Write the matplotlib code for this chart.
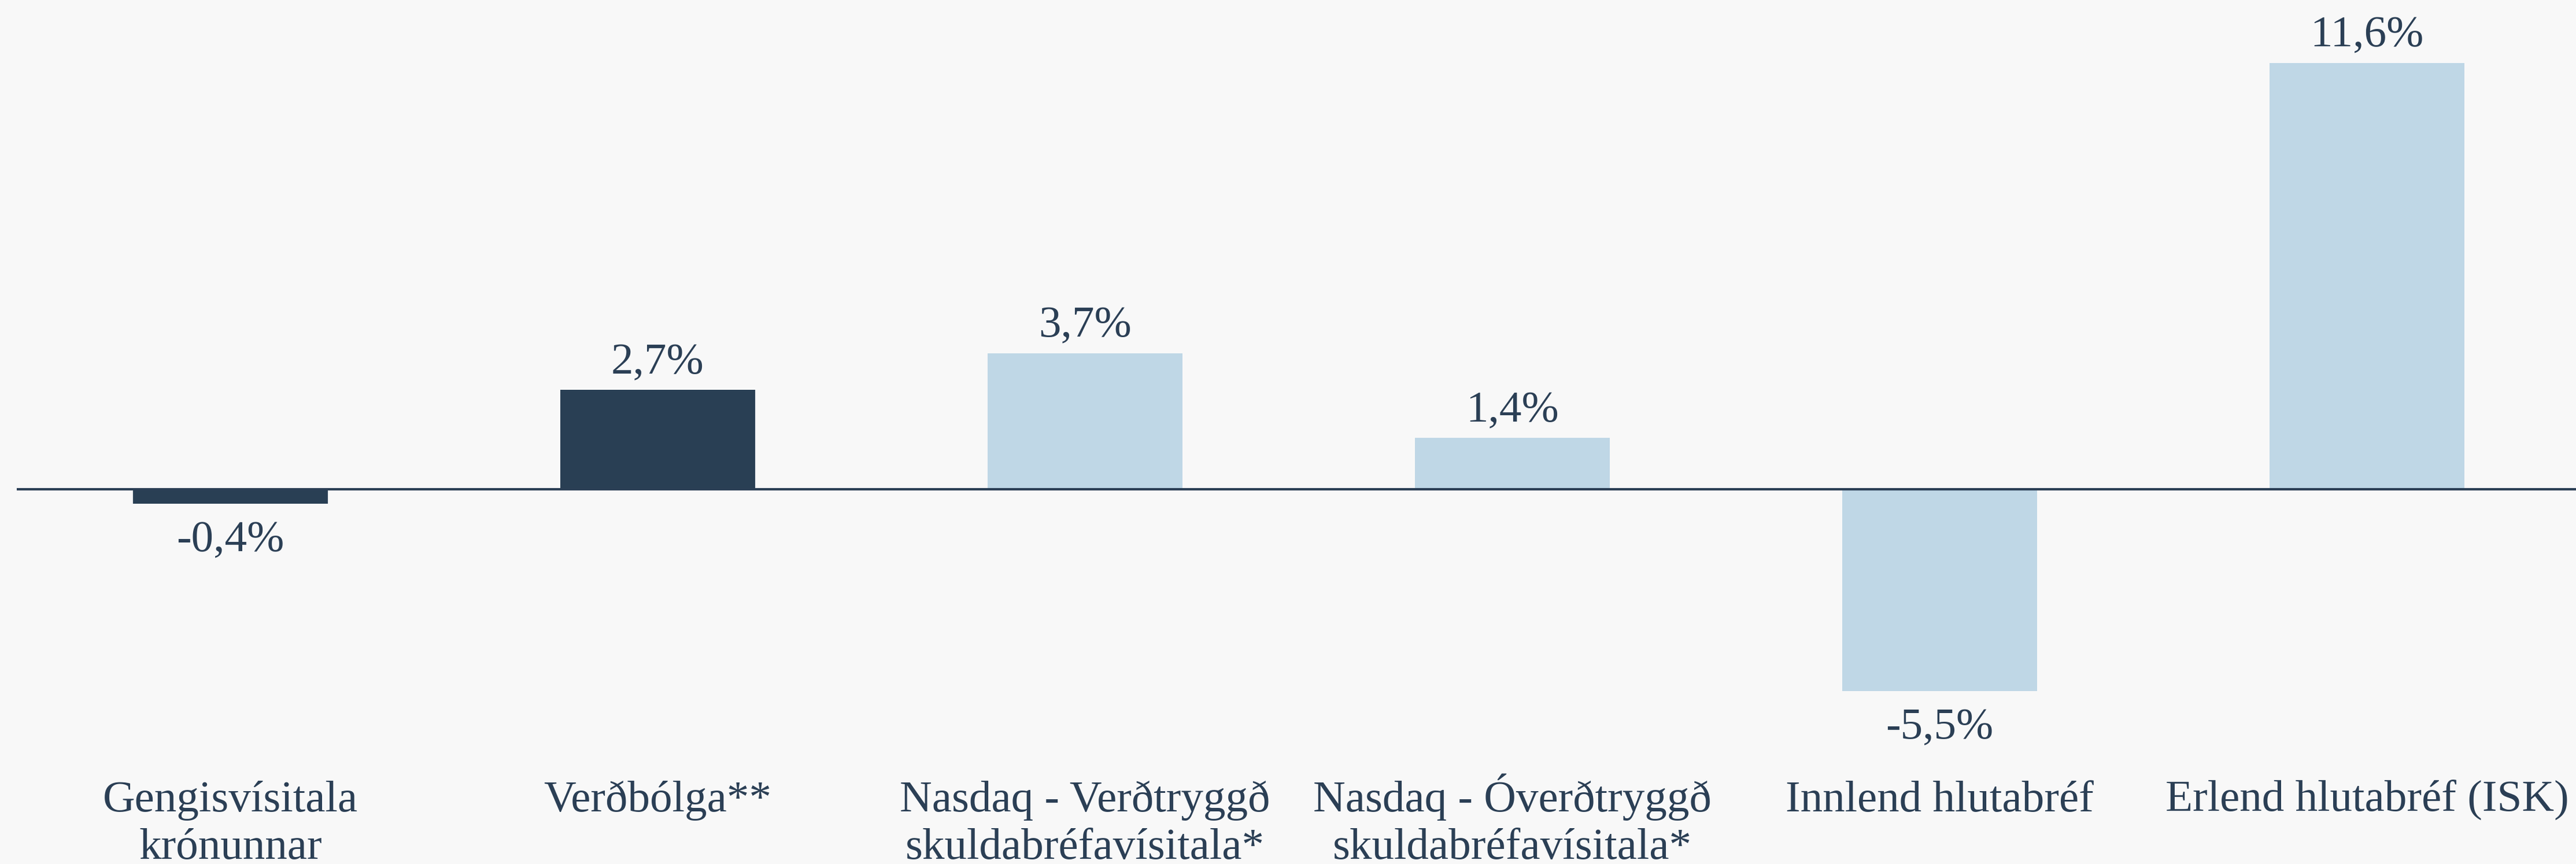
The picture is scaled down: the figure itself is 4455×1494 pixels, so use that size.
import matplotlib
matplotlib.use('Agg')
import matplotlib.pyplot as plt

plt.rcParams['font.family'] = ['Liberation Serif', 'DejaVu Serif']

# Ávöxtun eignaflokka (%)
flokkar = [
    'Gengisvísitala\nkrónunnar',
    'Verðbólga**',
    'Nasdaq - Verðtryggð\nskuldabréfavísitala*',
    'Nasdaq - Óverðtryggð\nskuldabréfavísitala*',
    'Innlend hlutabréf',
    'Erlend hlutabréf (ISK)',
]
avoxtun = [-0.4, 2.7, 3.7, 1.4, -5.5, 11.6]

C_BG = '#F8F8F8'
C_DARK = '#293F54'
C_LIGHT = '#BFD7E6'
C_TEXT = '#2B3F55'
litir = [C_DARK, C_DARK, C_LIGHT, C_LIGHT, C_LIGHT, C_LIGHT]

FS = 18.5
H = 1494  # hæð myndar í pixlum

fig = plt.figure(figsize=(14.85, 4.98), dpi=300)
fig.patch.set_facecolor(C_BG)
ax = fig.add_axes([29 / 4455, 0.0, 6 * 739 / 4455, 1.0])
ax.set_facecolor(C_BG)

x = list(range(len(flokkar)))
ax.bar(x, avoxtun, width=0.456, color=litir, linewidth=0, zorder=2)
ax.axhline(0, color=C_TEXT, lw=1.0, zorder=3)

ax.set_xlim(-0.5, len(flokkar) - 0.5)
ax.set_ylim(-10.20, 13.31)
ax.axis('off')

# gildi ofan/neðan við súlur
for xi, v in zip(x, avoxtun):
    txt = f'{v:.1f}%'.replace('.', ',')
    off = 6.7 if v >= 0 else -19.8
    ax.annotate(txt, (xi, v), xytext=(0, off), textcoords='offset points',
                ha='center', va='baseline', fontsize=FS, color=C_TEXT)

# heiti flokka neðst, hver lína sér svo grunnlínur standist á
for xi, lab in zip(x, flokkar):
    for k, line in enumerate(lab.split('\n')):
        ax.text(xi, (H - 1403 - 82 * k) / H, line,
                transform=ax.get_xaxis_transform(),
                ha='center', va='baseline', fontsize=FS, color=C_TEXT)

fig.savefig('out.png', dpi=300, facecolor=C_BG)
